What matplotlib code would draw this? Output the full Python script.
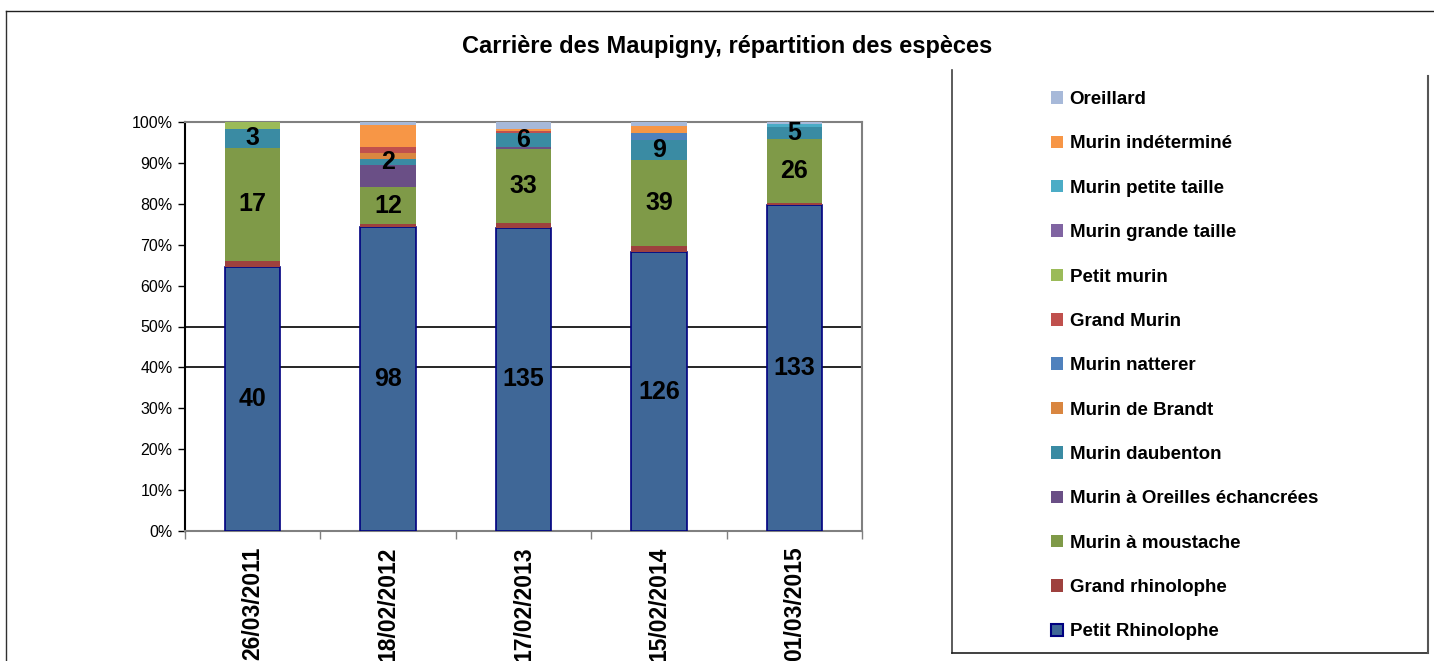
import matplotlib
matplotlib.use("Agg")
import matplotlib.pyplot as plt
from matplotlib.lines import Line2D
from matplotlib.patches import Patch
import numpy as np

plt.rcParams['font.family'] = ['Liberation Sans', 'DejaVu Sans']

dates = ["26/03/2011", "18/02/2012", "17/02/2013", "15/02/2014", "01/03/2015"]
title = "Carrière des Maupigny, répartition des espèces"

# series in stacking order (bottom -> top)
species = ["Petit Rhinolophe", "Grand rhinolophe", "Murin à moustache",
           "Murin à Oreilles échancrées", "Murin daubenton", "Murin de Brandt",
           "Murin natterer", "Grand Murin", "Petit murin", "Murin grande taille",
           "Murin petite taille", "Murin indéterminé", "Oreillard"]
petit_rhinolophe = [40, 98, 135, 126, 133]
grand_rhinolophe = [1, 1, 2, 3, 1]
murin_moustache = [17, 12, 33, 39, 26]
murin_oreilles_echancrees = [0, 7, 1, 0, 0]
murin_daubenton = [3, 2, 6, 9, 5]
murin_brandt = [0, 2, 0, 0, 0]
murin_natterer = [0, 0, 0, 3, 0]
grand_murin = [0, 2, 1, 0, 0]
petit_murin = [1, 0, 0, 0, 0]
murin_grande_taille = [0, 0, 0, 0, 0]
murin_petite_taille = [0, 0, 0, 0, 1]
murin_indetermine = [0, 7, 1, 3, 0]
oreillard = [0, 1, 3, 2, 1]

series = [petit_rhinolophe, grand_rhinolophe, murin_moustache,
          murin_oreilles_echancrees, murin_daubenton, murin_brandt,
          murin_natterer, grand_murin, petit_murin, murin_grande_taille,
          murin_petite_taille, murin_indetermine, oreillard]
colors = ["#3F6797", "#9E413E", "#7F9A48", "#6A4F86", "#3A8BA3", "#D98640",
          "#4F81BD", "#C0504D", "#9BBB59", "#8064A2", "#4BACC6", "#F79646",
          "#A7B9D9"]
labelled = {0, 2, 4}

W, H = 1434, 661
fig = plt.figure(figsize=(W / 100, H / 100), dpi=100)
ax = fig.add_axes([185 / W, (H - 531) / H, (862 - 185) / W, (531 - 122) / H])

data = np.array(series, dtype=float)
totals = data.sum(axis=0)
pct = data / totals * 100
x = np.arange(len(dates))
bottom = np.zeros(len(dates))
for i, (name, vals, p, c) in enumerate(zip(species, series, pct, colors)):
    if i == 0:
        ax.bar(x, p, 0.41, bottom=bottom, color=c, edgecolor="#000080",
               linewidth=1.2, zorder=3)
    else:
        ax.bar(x, p, 0.41, bottom=bottom, color=c, edgecolor="none", zorder=3)
    if i in labelled:
        for xi, v, pv, b in zip(x, vals, p, bottom):
            if v > 0:
                ax.text(xi, b + pv / 2, str(v), ha="center", va="center",
                        fontsize=18, fontweight="bold", color="black", zorder=5)
    bottom += p

ax.set_xlim(-0.5, len(dates) - 0.5)
ax.set_ylim(0, 100)
ax.axhline(40, color="black", lw=1.2, zorder=1)
ax.axhline(50, color="black", lw=1.2, zorder=1)

ax.set_yticks(np.arange(0, 101, 10))
ax.set_yticklabels([f"{v}%" for v in range(0, 101, 10)], fontsize=11.5)
ax.tick_params(axis="y", direction="out", length=5, width=1, color="black", pad=4)
ax.set_xticks(x)
ax.set_xticklabels(dates, rotation=90, fontsize=16.5, fontweight="bold", va="top")
ax.tick_params(axis="x", length=0, pad=11)
ax.set_xticks(np.arange(-0.5, len(dates), 1), minor=True)
ax.tick_params(axis="x", which="minor", direction="out", length=6, width=1, color="#808080")

ax.spines["left"].set_color("black")
ax.spines["left"].set_linewidth(1.5)
for s in ["top", "right", "bottom"]:
    ax.spines[s].set_color("#808080")
    ax.spines[s].set_linewidth(1.5)

fig.text(727 / W, 1 - 47 / H, title, ha="center", va="center",
         fontsize=17, fontweight="bold")

# legend (top entry first)
handles = []
for i in range(len(species) - 1, -1, -1):
    if i == 0:
        handles.append(Patch(facecolor=colors[i], edgecolor="#000080", linewidth=1.5, label=species[i]))
    else:
        handles.append(Patch(facecolor=colors[i], edgecolor="none", label=species[i]))
leg = fig.legend(handles=handles, loc="upper left",
                 bbox_to_anchor=(1051 / W, 1 - 91 / H), frameon=False,
                 prop={"size": 13.5, "weight": "bold"}, labelspacing=1.46,
                 handlelength=0.65, handleheight=0.65, handletextpad=0.35,
                 borderpad=0, borderaxespad=0)

# legend frame (left, bottom, right)
fig.add_artist(Line2D([952 / W, 952 / W], [1 - 70 / H, 1 - 653 / H], color="#404040", lw=1.2))
fig.add_artist(Line2D([952 / W, 1428 / W], [1 - 653 / H, 1 - 653 / H], color="#202020", lw=1.2))
fig.add_artist(Line2D([1428 / W, 1428 / W], [1 - 76 / H, 1 - 653 / H], color="#555555", lw=1.5))

# outer chart frame
fig.add_artist(Line2D([6 / W, 6 / W], [1 - 11 / H, 0], color="#303030", lw=1.0))
fig.add_artist(Line2D([6 / W, 1], [1 - 11 / H, 1 - 11 / H], color="#202020", lw=1.0))

fig.savefig("out.png", dpi=100)
